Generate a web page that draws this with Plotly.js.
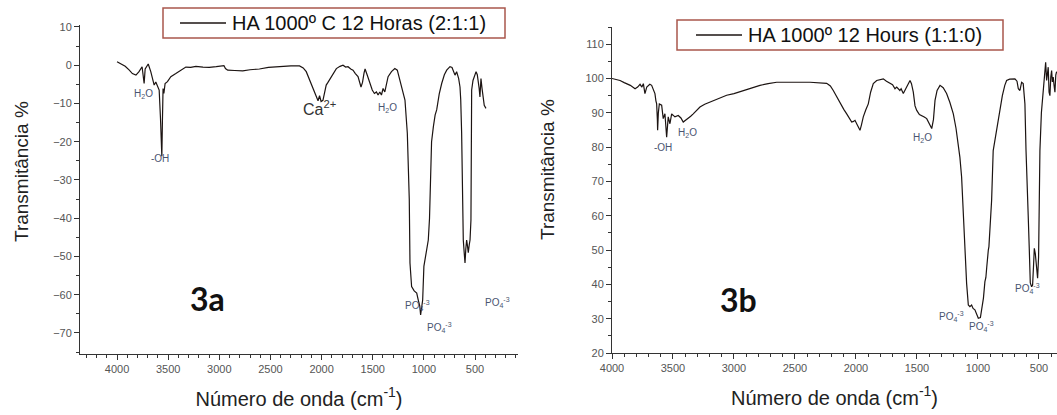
<!DOCTYPE html>
<html>
<head>
<meta charset="utf-8">
<script src="https://cdn.plot.ly/plotly-3.0.1.min.js"></script>
<style>html,body{margin:0;padding:0;background:#fff;}#chart{width:1057px;height:415px;}</style>
</head>
<body>
<div id="chart"></div>
<script>
// ---- Data: panel 3a (HA 1000º C 12 Horas, 2:1:1) ----
const waveA = [4000,3960,3920,3880,3850,3815,3785,3755,3740,3735,3725,3695,3670,3652,3637,3621,3605,3588,3575,3568,3562,3556,3550,3542,3530,3507,3474,3425,3376,3327,3280,3229,3160,3098,3030,2955,2940,2918,2850,2771,2700,2608,2520,2444,2300,2216,2180,2150,2101,2070,2050,2035,2020,2005,1987,1970,1955,1938,1905,1870,1856,1820,1791,1765,1742,1715,1693,1670,1644,1615,1600,1585,1575,1555,1530,1505,1484,1464,1448,1431,1415,1399,1382,1365,1350,1317,1284,1260,1234,1210,1185,1162,1150,1143,1136,1120,1095,1070,1055,1040,1032,1020,1012,1000,980,957,945,940,925,907,890,875,850,826,800,777,745,725,713,696,680,660,647,640,631,625,615,606,598,590,582,575,566,557,549,540,535,533,520,505,490,478,468,460,452,442,432,420,410,393];
const transA = [0.9,0.4,-0.3,-1.3,-2.2,-2.6,-1.7,-0.4,-3.0,-4.8,-1.0,0.3,-1.7,-3.5,-5.2,-4.4,-5.7,-6.5,-14.0,-23.5,-23.8,-14.4,-6.1,-7.4,-4.8,-4.3,-3.0,-2.2,-1.3,-0.5,-0.6,-0.3,-0.5,-0.6,-0.4,-0.1,-0.9,-1.3,-1.4,-1.5,-1.2,-1.0,-0.6,-0.4,-0.2,-0.2,-0.7,-1.7,-4.8,-7.0,-8.5,-9.3,-8.0,-9.5,-9.2,-7.0,-5.2,-4.5,-3.0,-1.2,-0.9,-0.3,0,-0.5,-0.4,-1.0,-1.3,-2.2,-3.0,-5.7,-4.5,-2.0,-1.0,-2.5,-4.5,-6.5,-7.4,-7.0,-7.8,-7.0,-7.8,-6.1,-7.0,-5.0,-3.0,-1.7,-0.9,-1.3,-3.9,-6.0,-9.1,-17.8,-28,-35,-51.7,-57.9,-59,-59.6,-61.4,-63,-65.3,-63,-61.4,-52.6,-49,-45.7,-40,-36,-20,-16,-13,-11.7,-7.5,-4.8,-2.5,-1.3,-0.4,-0.6,-1.3,-2.6,-1.7,-3.5,-5.7,-9,-17.8,-35,-45.7,-49,-51.7,-48,-45.7,-47,-49,-47,-45.7,-40.5,-25,-6.5,-4,-2.5,-1.7,-2.5,-3.9,-6,-8.3,-3.5,-6,-9.1,-10.5,-11.3];

// ---- Data: panel 3b (HA 1000º 12 Hours, 1:1:0) ----
const waveB = [4000,3970,3934,3900,3880,3850,3811,3790,3770,3755,3743,3730,3715,3702,3690,3675,3660,3648,3640,3634,3628,3626,3620,3612,3593,3580,3566,3552,3539,3525,3511,3484,3457,3435,3416,3395,3375,3355,3334,3300,3279,3240,3197,3130,3060,3000,2924,2860,2787,2720,2650,2514,2377,2240,2210,2186,2160,2131,2100,2076,2050,2035,2020,2008,1990,1967,1955,1940,1920,1899,1880,1858,1830,1800,1776,1750,1721,1700,1680,1666,1640,1630,1612,1600,1584,1565,1557,1545,1530,1516,1502,1480,1461,1440,1420,1400,1379,1365,1352,1335,1311,1285,1257,1230,1202,1180,1161,1148,1134,1120,1107,1093,1079,1066,1052,1040,1025,1010,997,980,970,955,943,935,928,921,915,910,900,888,875,861,840,820,800,780,765,740,720,697,680,669,656,642,629,615,606,600,588,579,571,560,552,545,538,530,520,511,503,496,492,480,465,458,451,445,437,430,424,417,410,403,396,390,383,376,369,362,355];
const transB = [100,99.8,99.4,98.8,98.5,98.0,97.0,97.5,98.3,97.5,98.5,95.6,97.5,98,98.3,98,96.5,95.6,93.5,92.6,88,84.9,90,92.6,92.2,88.3,89.7,82.9,88.8,86.8,89.7,88.8,89.2,88.5,87.3,87.8,88.3,89.0,89.7,90.8,91.7,92.5,93.1,94.2,95.1,95.6,96.5,97.2,98,98.5,98.9,98.9,98.9,98.6,97.8,96.5,94.8,92.6,91,89.7,88,87.3,87.5,87.8,86.5,84.9,86.5,88.8,90.8,92.6,96,98.5,99.4,99.8,99.9,99.2,98.5,98.2,97.0,97.5,96.5,97.0,95.6,96.5,97.5,98.8,99.4,98.5,96,92,90.7,89.5,89.2,88.8,88.3,87,85.4,88,93.6,96.5,98,97.3,95.6,93,89.7,85.5,81.0,77,71.3,59.7,50,40.3,34,33.5,34,33,32.6,31,30.1,30.3,32.6,36,40.8,42,45,49,50,51,57,64.5,79,82,86,89.7,95,98,99.4,99.8,99.9,99.9,99.2,97,96.5,98.9,98.5,92.6,79,70,60,50,40.4,39.3,39.8,45,50.5,49,45,41.8,48,70,79,90,95.6,98,100.4,104.7,99.4,101,103.3,96,95,100.4,102.3,99,100.4,98,96,101,102];

const seriesNames = ["HA 1000º C 12 Horas (2:1:1)", "HA 1000º 12 Hours (1:1:0)"];
const xTitle = "Número de onda (cm<sup>-1</sup>)";
const yTitle = "Transmitância %";

// Peak labels: [text, wavenumber, transmittance]
const labelsA = [["H<sub>2</sub>O",3746,-7.6],["-OH",3580,-24.5],["Ca<sup>2+</sup>",2016,-11.2],["H<sub>2</sub>O",1351,-11.2],["PO<sub>4</sub><sup>-3</sup>",1058,-62.9],["PO<sub>4</sub><sup>-3</sup>",843,-68.7],["PO<sub>4</sub><sup>-3</sup>",276,-62.1]];
const labelsB = [["-OH",3582,79.9],["H<sub>2</sub>O",3385,84],["H<sub>2</sub>O",1451,82.8],["PO<sub>4</sub><sup>-3</sup>",1221,30.5],["PO<sub>4</sub><sup>-3</sup>",967,27.6],["PO<sub>4</sub><sup>-3</sup>",590,38.7]];
const panelTags = [["3a",3120,-61],["3b",2967,35.5]];

const FONT = "Liberation Sans, Arial, sans-serif";
const lineColor = "#1c1412";
const boxColor = "#a9574c";
const tickColor = "#555";
const W = 1057, H = 415;
const px = v => v / W, py = v => 1 - v / H;

const traces = [
  {x: waveA, y: transA, type: "scatter", mode: "lines", name: seriesNames[0],
   line: {color: lineColor, width: 1.2}, xaxis: "x", yaxis: "y"},
  {x: waveB, y: transB, type: "scatter", mode: "lines", name: seriesNames[1],
   line: {color: lineColor, width: 1.2}, xaxis: "x2", yaxis: "y2"}
];

function axisCommon() {
  return {
    showgrid: false, zeroline: false, showline: true, linecolor: "#333", linewidth: 1,
    ticks: "outside", ticklen: 5, tickcolor: "#333", tickwidth: 1,
    tickfont: {family: FONT, size: 11, color: tickColor},
    mirror: false
  };
}

const layout = {
  width: W, height: H,
  margin: {l: 0, r: 0, t: 0, b: 0},
  paper_bgcolor: "#fff", plot_bgcolor: "#fff",
  font: {family: FONT},
  showlegend: false,
  xaxis: Object.assign(axisCommon(), {
    domain: [px(80), px(518)], range: [4362, 80], anchor: "y",
    tick0: 0, dtick: 500, minor: {dtick: 100, ticks: "outside", ticklen: 3, tickcolor: "#333"},
    title: {text: xTitle, font: {family: FONT, size: 20, color: "#222"}, standoff: 17}
  }),
  yaxis: Object.assign(axisCommon(), {
    domain: [61/H, 390/H], range: [-75.5, 10.5], anchor: "x",
    tick0: 0, dtick: 10, minor: {dtick: 5, ticks: "outside", ticklen: 3, tickcolor: "#333"}
  }),
  xaxis2: Object.assign(axisCommon(), {
    domain: [px(612), 1], range: [4000, 352], anchor: "y2",
    tick0: 0, dtick: 500, minor: {dtick: 100, ticks: "outside", ticklen: 3, tickcolor: "#333"},
    title: {text: xTitle, font: {family: FONT, size: 20, color: "#222"}, standoff: 17}
  }),
  yaxis2: Object.assign(axisCommon(), {
    domain: [62/H, 388/H], range: [20, 115], anchor: "x2",
    tick0: 0, dtick: 10, minor: {dtick: 5, ticks: "outside", ticklen: 3, tickcolor: "#333"}
  }),
  shapes: [],
  annotations: []
};

// Legend boxes (drawn as box + sample line + text)
const legends = [
  {box: [163, 8, 505, 38], line: [180, 226], text: 230, name: seriesNames[0]},
  {box: [677, 20, 1003, 50], line: [696, 742], text: 746, name: seriesNames[1]}
];
legends.forEach(function (lg) {
  const b = lg.box, cy = (b[1] + b[3]) / 2;
  layout.shapes.push({type: "rect", xref: "paper", yref: "paper",
    x0: px(b[0]), x1: px(b[2]), y0: py(b[3]), y1: py(b[1]),
    line: {color: boxColor, width: 1.5}, fillcolor: "#fff", layer: "above"});
  layout.shapes.push({type: "line", xref: "paper", yref: "paper",
    x0: px(lg.line[0]), x1: px(lg.line[1]), y0: py(cy), y1: py(cy),
    line: {color: lineColor, width: 1.3}, layer: "above"});
  layout.annotations.push({text: lg.name, xref: "paper", yref: "paper",
    x: px(lg.text), y: py(cy), xanchor: "left", yanchor: "middle", showarrow: false,
    font: {family: FONT, size: 20, color: "#111"}});
});

// Y axis titles
layout.annotations.push({text: yTitle, xref: "paper", yref: "paper", x: px(21), y: py(172),
  xanchor: "center", yanchor: "middle",
  textangle: -90, showarrow: false, font: {family: FONT, size: 19, color: "#222"}});
layout.annotations.push({text: yTitle, xref: "paper", yref: "paper", x: px(547), y: py(170),
  xanchor: "center", yanchor: "middle",
  textangle: -90, showarrow: false, font: {family: FONT, size: 19, color: "#222"}});

function addLabels(list, xr, yr) {
  list.forEach(function (l) {
    const big = l[0].indexOf("Ca") === 0;
    layout.annotations.push({
      text: l[0], x: l[1], y: l[2], xref: xr, yref: yr, showarrow: false,
      font: {family: FONT, size: big ? 16 : 10, color: big ? "#333" : "#4a5570"}
    });
  });
}
addLabels(labelsA, "x", "y");
addLabels(labelsB, "x2", "y2");
layout.annotations.push({text: "<b>" + panelTags[0][0] + "</b>", x: panelTags[0][1], y: panelTags[0][2], xref: "x", yref: "y",
  showarrow: false, font: {family: "Lato, Open Sans, sans-serif", size: 32, color: "#111"}});
layout.annotations.push({text: "<b>" + panelTags[1][0] + "</b>", x: panelTags[1][1], y: panelTags[1][2], xref: "x2", yref: "y2",
  showarrow: false, font: {family: "Lato, Open Sans, sans-serif", size: 32, color: "#111"}});

Plotly.newPlot("chart", traces, layout, {displayModeBar: false, staticPlot: true});
</script>
</body>
</html>
